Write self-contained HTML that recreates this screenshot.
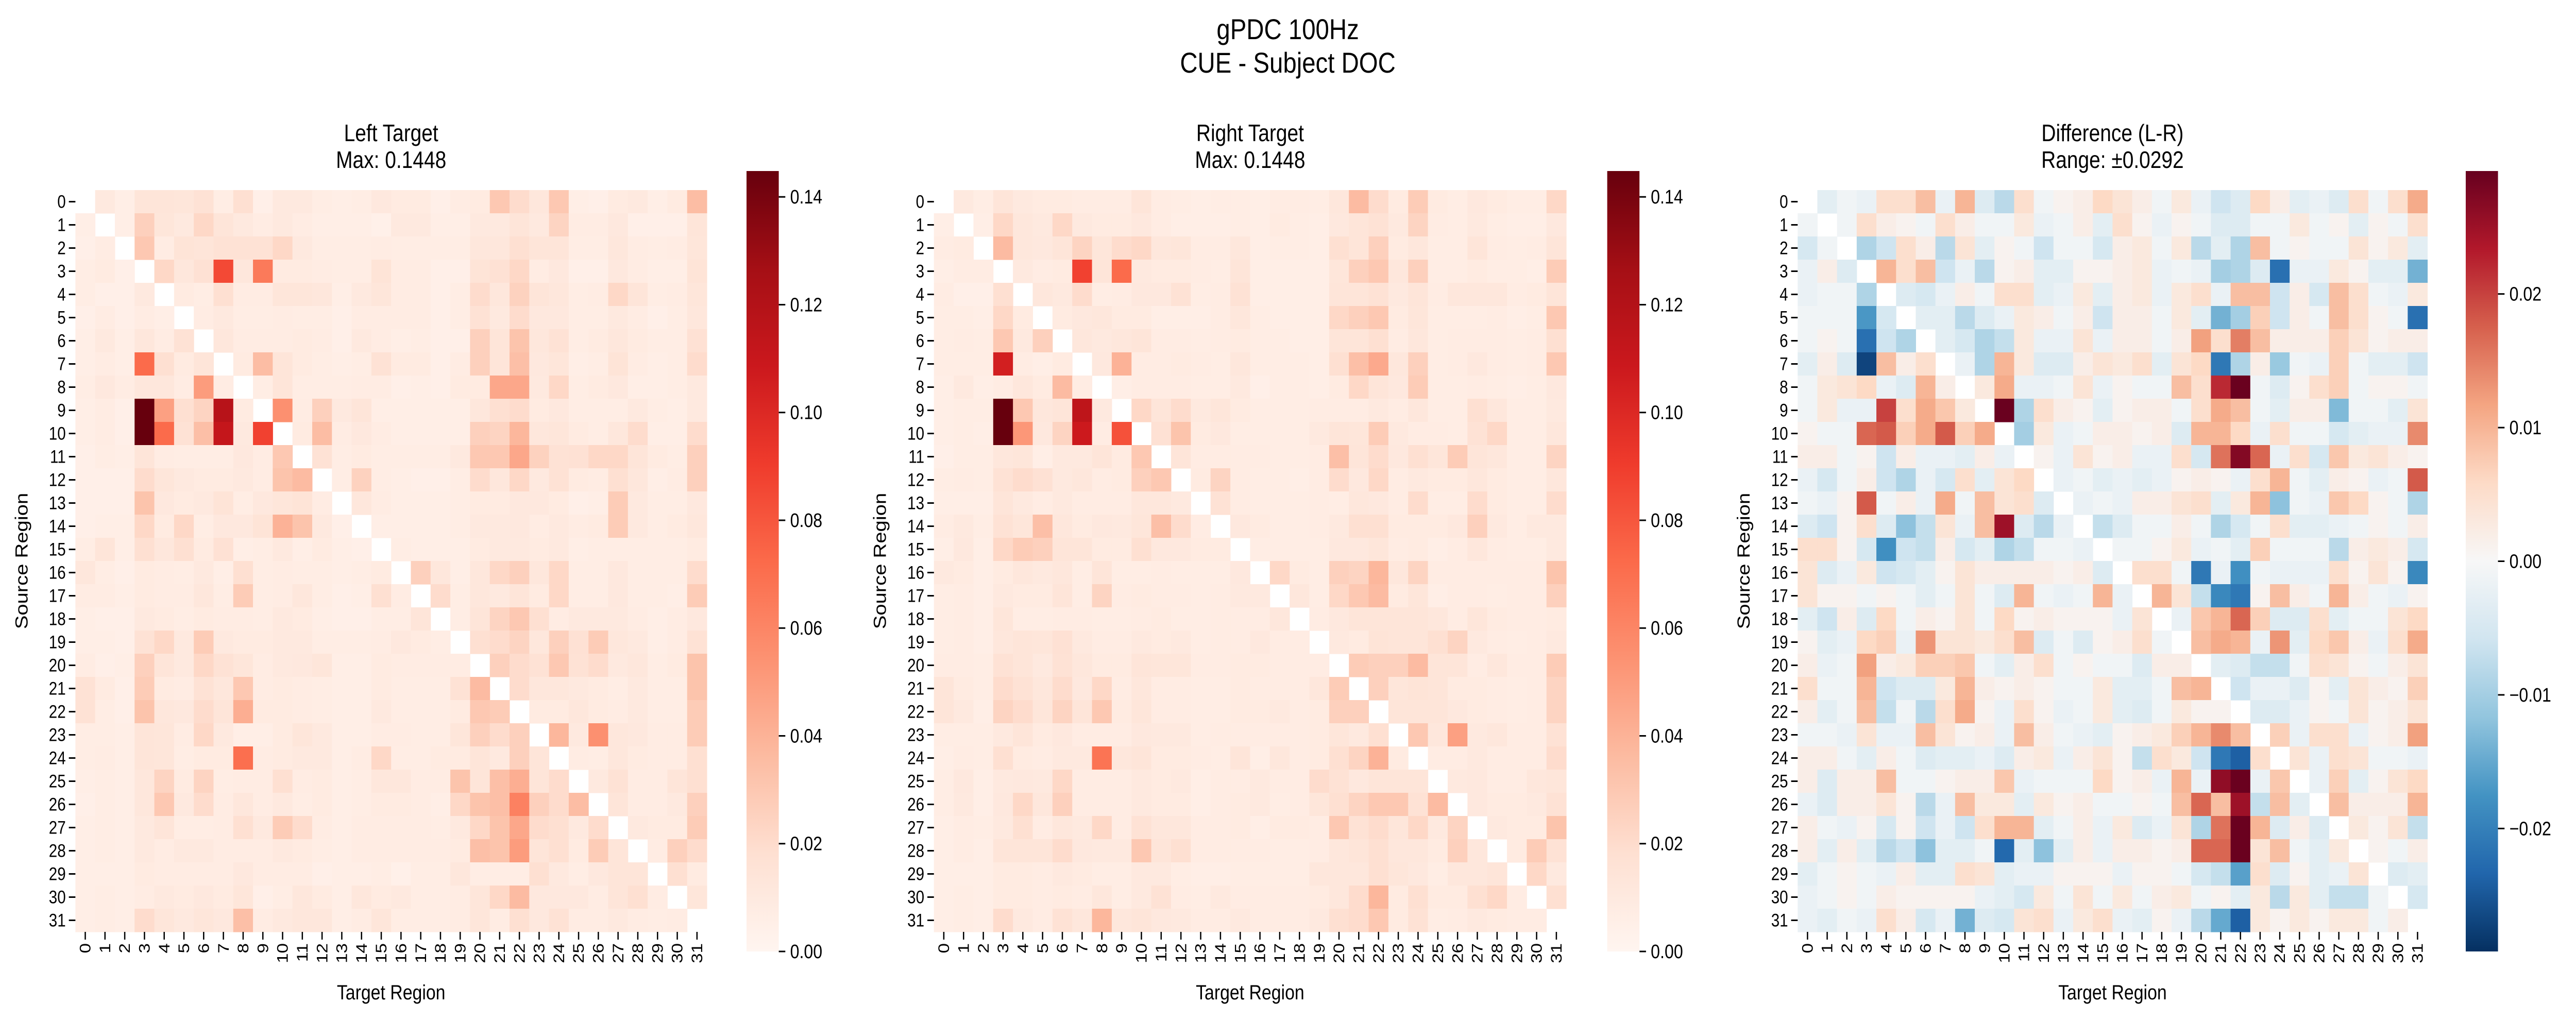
<!DOCTYPE html>
<html><head><meta charset="utf-8"><style>
html,body{margin:0;padding:0;background:#fff;overflow:hidden;width:100vw;height:100vh}
svg{display:block;width:100vw;height:100vh;font-family:"Liberation Sans","DejaVu Sans",sans-serif}
</style></head><body>
<svg id="fig" viewBox="0 0 5911 1982" preserveAspectRatio="none" xmlns="http://www.w3.org/2000/svg">
<rect width="5911" height="1982" fill="#fff"/>
<text x="2955" y="76" font-size="56" text-anchor="middle">gPDC 100Hz</text>
<text x="2955" y="141" font-size="56" text-anchor="middle">CUE - Subject DOC</text>
</svg>
<script>
// values in thousandths
const regions = Array.from({length:32},(_,i)=>String(i));
const leftRows = [
"0,10,6,14,14,13,16,7,18,5,10,10,7,6,7,11,9,9,5,8,9,30,20,12,30,6,5,9,10,6,9,35",
"6,0,6,26,13,10,22,14,10,8,10,8,6,6,6,4,10,10,6,6,10,10,14,10,24,8,8,11,5,5,5,14",
"5,8,0,30,8,15,14,16,16,16,22,10,7,7,7,8,7,7,7,7,12,12,18,14,14,7,7,12,8,7,8,13",
"7,9,5,0,22,12,17,85,12,65,9,9,8,7,7,15,8,8,5,5,15,17,22,8,11,5,5,11,8,6,6,15",
"7,5,5,10,0,9,7,18,8,8,13,13,12,6,10,13,8,8,5,7,20,12,25,14,12,7,8,22,14,7,8,13",
"5,8,5,8,6,0,8,10,7,7,8,7,7,5,8,8,8,8,5,7,16,10,20,11,11,7,7,10,8,5,7,12",
"6,10,6,12,8,16,0,12,8,8,8,9,8,5,10,8,6,7,5,5,26,14,32,12,16,7,9,12,9,7,7,17",
"6,8,6,72,18,9,14,0,9,35,14,9,7,6,7,16,9,9,5,8,26,14,34,11,13,6,7,15,8,6,7,20",
"7,11,8,12,12,8,50,8,0,7,14,7,7,7,8,8,5,6,5,9,9,45,45,10,22,7,9,11,6,6,7,10",
"6,8,5,145,48,18,24,118,9,0,55,8,26,10,14,6,6,6,6,6,12,18,20,9,11,7,7,7,10,7,6,10",
"6,8,5,145,72,16,34,112,10,88,0,9,35,8,11,8,6,6,6,6,26,24,38,12,13,9,7,12,20,6,6,20",
"5,7,6,14,8,7,7,7,11,8,30,0,16,7,9,7,7,7,7,10,30,30,45,25,16,17,22,22,14,9,7,26",
"5,5,5,20,13,10,9,9,10,8,32,36,0,7,25,7,6,5,5,7,20,12,22,10,16,9,8,18,12,6,8,26",
"5,5,5,32,11,9,10,15,7,11,13,15,8,0,12,8,6,6,6,7,9,9,11,11,9,5,6,28,10,7,7,11",
"5,6,6,22,9,22,7,11,11,15,40,32,10,5,0,6,6,6,6,7,10,10,11,8,10,8,9,28,10,7,9,12",
"7,14,6,18,12,18,9,17,6,7,10,6,9,6,5,0,7,6,6,6,9,10,10,9,10,6,7,7,7,7,7,9",
"12,7,5,9,8,7,10,6,18,7,8,7,7,6,7,9,0,26,12,6,12,22,26,12,22,7,7,11,7,7,7,20",
"8,8,6,9,8,8,12,7,28,7,8,12,7,5,6,18,8,0,20,7,12,10,14,9,22,7,7,11,7,7,6,28",
"6,5,5,10,9,7,9,8,8,7,10,9,6,5,5,7,7,14,0,7,14,24,30,18,8,10,10,10,8,6,8,11",
"6,6,5,16,22,10,28,10,9,9,10,10,7,7,7,8,11,9,7,0,18,20,24,12,26,17,28,12,10,6,8,16",
"8,5,6,26,14,10,22,16,13,8,10,11,13,6,6,9,8,8,8,8,0,26,20,16,30,16,20,10,12,7,9,32",
"16,9,5,28,9,8,16,12,30,8,9,8,7,6,6,9,7,7,7,16,36,0,20,12,12,10,9,7,10,7,7,32",
"16,7,5,32,12,11,20,14,42,9,9,8,7,6,6,10,7,7,7,9,30,28,0,9,9,12,9,8,10,7,7,28",
"7,7,6,14,13,8,22,10,6,6,9,13,10,6,6,8,8,7,7,13,26,20,26,0,38,10,55,12,11,8,8,28",
"7,8,6,14,13,7,9,9,70,8,9,10,10,6,8,22,7,7,9,9,14,10,26,14,0,8,7,12,9,8,8,18",
"6,7,6,12,24,9,24,7,8,8,18,8,9,6,7,12,12,8,8,32,14,34,42,14,20,0,10,16,8,8,14,18",
"5,7,6,12,30,10,20,8,12,8,10,7,9,6,7,9,9,8,6,22,32,34,62,26,20,35,0,14,8,8,10,26",
"6,7,6,10,14,7,7,8,18,10,28,20,8,6,8,8,8,8,7,10,22,32,45,20,18,10,20,0,10,9,9,28",
"6,7,6,10,8,10,10,8,8,8,10,9,7,6,8,8,8,8,8,9,34,32,50,14,18,9,28,14,0,8,26,20",
"6,6,6,9,8,8,8,8,11,8,8,8,5,6,6,7,4,7,7,12,7,7,7,18,10,7,11,14,14,0,18,9",
"6,7,6,8,10,9,11,9,13,5,7,12,9,6,12,9,10,7,7,8,13,22,36,11,11,11,8,14,18,8,0,13",
"6,7,6,20,13,10,13,11,34,8,10,12,12,6,8,13,7,7,7,8,13,8,18,11,16,8,8,10,8,7,8,0"];
const rightRows = [
"0,10,7,14,10,9,9,8,8,8,14,8,7,6,7,7,6,8,8,7,12,36,20,9,28,9,7,11,9,7,7,22",
"6,0,6,22,12,10,22,10,9,9,11,8,6,6,6,7,6,9,7,6,11,14,16,10,24,8,7,10,7,6,6,11",
"8,9,0,36,12,11,14,24,13,20,22,12,13,8,8,12,6,7,7,6,18,14,26,9,12,7,7,14,8,7,8,14",
"6,8,8,0,10,8,9,88,14,72,10,9,9,8,7,14,6,6,6,6,13,26,30,12,26,7,7,9,7,7,6,28",
"8,5,5,18,0,12,10,20,7,8,11,11,16,7,8,16,6,6,6,6,14,14,16,10,14,8,12,12,12,8,9,14",
"7,7,6,22,9,0,9,11,12,9,9,6,6,6,8,12,7,6,6,6,22,26,30,9,13,7,7,7,8,6,7,30",
"7,8,7,30,10,26,0,12,10,12,14,8,8,7,8,9,7,7,6,6,14,14,18,8,12,7,8,8,8,7,8,18",
"7,7,7,105,8,6,9,0,11,40,8,8,9,8,7,12,7,7,7,6,18,34,44,12,26,7,8,11,8,7,8,30",
"6,10,6,8,12,9,36,8,0,6,8,8,8,7,7,10,5,7,7,6,9,22,14,11,28,7,7,8,7,6,7,11",
"6,7,7,145,30,12,14,115,10,0,22,14,20,10,13,9,7,7,7,8,8,8,10,8,12,7,7,18,12,7,7,10",
"6,7,6,145,52,11,24,108,8,82,0,17,32,9,11,7,7,7,7,10,14,13,28,10,8,8,7,16,22,7,7,12",
"5,7,7,12,13,6,10,10,14,9,30,0,14,8,8,8,8,7,7,8,34,14,20,11,18,13,28,14,12,7,7,24",
"7,8,7,16,20,17,10,12,8,9,26,30,0,9,24,8,7,7,6,8,20,11,22,8,10,9,9,12,9,7,7,12",
"6,6,6,14,10,8,10,8,8,8,12,12,10,0,16,8,7,7,7,8,7,12,11,8,20,7,7,20,9,7,7,20",
"8,10,7,16,13,34,12,9,11,10,13,34,20,8,0,11,9,7,7,8,10,18,18,9,9,9,11,26,10,7,10,10",
"6,11,6,22,28,26,14,14,9,9,18,11,11,9,9,0,7,7,7,7,11,11,13,8,9,6,8,12,8,7,7,10",
"10,9,6,9,12,10,12,7,14,7,7,8,7,7,7,11,0,22,9,7,26,24,38,12,24,8,8,8,8,8,8,32",
"7,8,6,10,9,9,14,7,24,8,9,8,8,7,8,10,10,0,12,7,22,30,36,9,13,6,8,8,7,8,8,26",
"7,8,6,13,7,7,8,8,7,7,8,9,7,7,8,8,8,12,0,8,11,14,14,14,14,12,8,13,9,8,8,9",
"7,8,6,12,14,13,17,10,8,8,10,9,10,7,8,8,11,8,8,0,10,9,15,14,14,18,24,10,8,7,8,10",
"8,8,7,16,14,10,16,12,9,9,14,13,13,8,8,9,9,8,8,8,0,28,26,26,36,14,14,8,12,8,8,28",
"14,9,7,20,16,12,20,11,22,8,12,8,8,7,7,9,8,8,8,12,28,0,26,13,15,14,9,9,8,7,8,24",
"14,10,6,24,20,13,24,14,30,9,13,8,8,7,7,9,9,10,8,9,26,26,0,14,14,14,11,9,8,7,8,24",
"7,7,7,10,14,9,11,8,8,8,11,10,10,7,8,8,8,8,8,9,13,10,18,0,30,12,48,10,12,8,8,16",
"6,8,7,18,9,8,10,10,68,12,14,9,9,8,7,14,6,12,8,9,18,24,40,9,0,8,8,10,8,8,8,20",
"7,11,6,10,11,10,22,8,8,8,10,9,10,6,8,8,10,8,8,20,16,11,14,14,14,0,10,11,8,8,12,13",
"7,10,6,11,22,12,26,8,8,8,10,9,9,6,8,9,10,7,8,13,18,24,30,30,16,36,0,11,9,9,10,16",
"6,8,7,10,18,8,12,10,22,8,16,12,12,8,8,9,6,9,9,8,30,16,20,13,22,10,24,0,10,9,9,32",
"6,8,6,14,14,14,20,11,10,10,30,14,18,8,8,8,8,7,7,8,12,14,18,12,12,9,26,12,0,9,28,16",
"6,6,6,9,9,8,10,9,7,7,10,10,7,6,6,7,7,7,7,12,12,12,18,13,11,7,12,12,14,0,22,10",
"6,7,6,9,9,8,9,8,12,7,10,16,8,7,10,8,8,8,8,9,12,20,38,9,18,9,9,18,22,8,0,18",
"6,7,6,20,10,8,16,12,38,12,14,11,10,8,8,10,8,8,8,10,18,20,30,9,16,7,8,10,9,8,8,0"];
const diffRows = [
"0,-3,-1,-2,5,5,9,-2,10,-4,-8,5,-1,1,2,6,4,2,-1,3,-2,-6,-4,6,2,-3,-2,-4,5,-1,5,11",
"-1,0,-1,5,2,1,-1,5,2,-1,-1,3,-2,-1,2,-3,5,1,-2,1,-1,-4,-4,-1,-1,3,-1,1,-3,1,-1,5",
"-5,-1,0,-9,-6,5,2,-8,4,-3,1,-1,-6,-1,-1,-5,2,3,-1,3,-8,-3,-9,9,-1,1,-1,-1,4,1,3,-3",
"-2,2,-4,0,10,5,9,-6,-2,-8,1,2,-3,-3,1,1,2,3,-2,-1,-2,-10,-9,-4,-22,-2,-2,3,1,-3,-3,-14",
"-2,-1,-1,-9,0,-4,-5,-2,2,-1,5,5,-3,-2,3,-3,2,3,-2,3,5,-2,9,9,-6,2,-5,9,5,-1,-2,3",
"-1,-1,-1,-17,-5,0,-3,-3,-8,-4,-2,3,2,-1,2,-6,2,2,-1,3,-3,-14,-10,7,-6,2,-1,9,5,1,-1,-22",
"-1,1,-1,-22,-6,-9,0,-3,-5,-9,-7,3,-2,-2,4,-2,2,2,-1,2,12,5,15,9,2,2,2,7,4,1,2,2",
"-3,2,-4,-27,9,2,5,0,-2,-9,10,3,-4,-4,2,4,3,5,-3,4,6,-21,-9,2,-11,-1,-2,7,-1,-3,-3,-6",
"-1,3,4,6,-2,-4,10,2,0,3,11,-2,-2,-1,4,-2,1,-1,-1,9,5,22,29,-1,-4,1,5,7,-1,1,1,-1",
"-1,3,-2,-2,20,5,11,8,3,0,29,-9,5,2,1,-3,1,2,2,-1,5,11,9,-1,-3,2,2,-13,-1,-1,-3,4",
"1,-1,-1,17,18,7,11,18,7,11,0,-10,3,-2,-1,2,2,1,2,-4,10,10,6,-2,5,-1,-1,-5,-3,-2,-2,14",
"2,2,-1,1,-6,2,-2,-2,-3,2,-2,0,1,-2,4,1,2,-2,-2,5,-5,16,27,17,-2,5,-5,8,3,4,2,1",
"-2,-5,-1,2,-6,-9,-2,-5,5,-3,4,6,0,-2,-1,-3,-2,-3,-2,1,2,1,-2,5,10,-1,-3,2,1,-2,-1,18",
"-1,-2,1,18,-1,2,-2,11,-1,9,4,5,-4,0,-2,-1,-2,2,2,4,5,-3,3,10,-12,-1,-2,8,6,1,-1,-9",
"-4,-6,1,5,-4,-12,-7,4,-2,9,25,-4,-8,-2,0,-7,-4,-1,-1,2,-1,-9,-5,-1,5,-3,-3,-2,-1,1,-1,2",
"5,5,1,-5,-18,-6,-7,2,-5,-3,-9,-7,-1,-1,-2,0,-1,-1,1,3,-2,-1,-3,7,-1,-1,-1,-8,2,3,2,-5",
"4,-4,-2,3,-6,-5,-3,1,4,2,2,2,2,1,2,-4,0,5,5,-1,-21,-2,-18,-1,-2,-2,-2,5,1,4,1,-19",
"4,1,1,-1,1,-1,-3,-1,4,-1,-4,10,-1,-2,-1,10,-2,0,10,4,-7,-19,-21,1,9,2,-1,10,2,-1,-2,1",
"-3,-6,2,-4,6,-1,2,1,4,-1,6,1,2,1,1,1,-2,4,0,-2,8,10,17,7,-4,-4,5,-3,-1,-1,4,6",
"1,-3,-2,6,7,-2,13,4,4,3,5,9,-4,-1,-4,1,2,5,-1,0,9,11,10,-2,13,-3,6,8,2,-2,5,11",
"2,-2,-1,12,2,3,7,7,8,-1,-3,2,5,-1,1,-1,-1,-4,2,2,0,-3,-4,-7,-7,-1,5,4,1,-1,2,4",
"5,-1,-1,10,-6,-4,-4,3,10,2,1,2,1,-1,-1,3,-3,-3,-1,9,10,0,-6,-2,-2,-4,1,-3,4,2,1,7",
"2,-3,-1,9,-7,-1,-8,5,11,1,-2,5,1,-2,-1,3,-3,-4,-1,3,1,1,0,-4,-4,-2,1,-1,4,1,2,4",
"-1,-1,-2,4,-2,-2,9,4,1,2,-2,9,2,-1,-2,-3,1,2,3,7,10,14,9,0,7,-2,5,5,-2,1,2,12",
"2,2,-1,-3,2,-1,-4,-3,-3,-2,-4,2,3,-2,2,4,1,-7,5,3,-6,-21,-24,5,0,4,-2,5,4,-1,-1,-2",
"2,-4,2,2,9,-1,-1,1,2,2,8,-2,-1,-1,-1,6,1,2,-2,10,-2,26,29,-2,8,0,-2,7,-3,1,4,6",
"-2,-4,2,2,4,1,-8,-2,9,3,3,-3,3,1,2,-1,-1,1,-1,9,17,9,25,-7,9,-3,0,9,2,2,2,10",
"2,-1,-2,1,-5,1,-6,-2,-6,5,10,10,-3,-1,2,-2,3,-4,-2,4,-9,16,29,10,-4,2,-4,0,3,1,4,-7",
"2,-3,2,-3,-8,-6,-12,-3,-3,-1,-23,-3,-12,-3,2,-2,2,2,1,2,17,17,29,4,9,-1,-3,3,0,1,-1,2",
"-3,-1,1,-1,-2,2,-3,-3,5,4,-3,-2,-2,1,1,1,-2,1,1,-1,-5,-7,-16,5,-4,1,-3,-2,4,0,-4,-3",
"-2,-1,1,-1,2,1,1,1,1,-2,-3,-5,3,-1,4,-1,3,-1,2,3,-1,1,-3,3,-8,3,-3,-7,-7,-1,0,-5",
"-2,-3,-1,-2,5,2,-5,-2,-14,-4,-5,4,5,-2,3,5,-2,-3,1,-2,-8,-15,-24,3,1,3,1,3,3,-1,2,0"];
const redTicks = ["0.00","0.02","0.04","0.06","0.08","0.10","0.12","0.14"];
const redTickVals = [0,0.02,0.04,0.06,0.08,0.10,0.12,0.14];
const diffTicks = ["\u22120.02","\u22120.01","0.00","0.01","0.02"];
const diffTickVals = [-0.02,-0.01,0,0.01,0.02];
const redMax = 0.1448, diffMax = 0.0292;

const REDS=["#fff5f0","#fee0d2","#fcbba1","#fc9272","#fb6a4a","#ef3b2c","#cb181d","#a50f15","#67000d"];
const RDBU=["#053061","#2166ac","#4393c3","#92c5de","#d1e5f0","#f7f7f7","#fddbc7","#f4a582","#d6604d","#b2182b","#67001f"];
function hex(h){return [1,3,5].map(i=>parseInt(h.substr(i,2),16));}
function cmap(stops,t){t=Math.max(0,Math.min(1,t));const n=stops.length-1;const f=t*n;const i=Math.min(n-1,Math.floor(f));const u=f-i;const a=hex(stops[i]),b=hex(stops[i+1]);return "rgb("+a.map((v,k)=>Math.round(v+(b[k]-v)*u)).join(",")+")";}
const NS="http://www.w3.org/2000/svg";
const svg=document.getElementById('fig');
function el(tag,attrs,parent){const e=document.createElementNS(NS,tag);for(const k in attrs)e.setAttribute(k,attrs[k]);(parent||svg).appendChild(e);return e;}
const Y0=369,Y1=1809;
function panel(id,x0,x1,rows,stops,vmin,vmax,title1,title2,cbx,ticks,tickVals){
  const g=el('g',{});
  
  
  const cw=(x1-x0)/32,ch=(Y1-Y0)/32;
  const xs=i=>x0+i*cw, ys=j=>Y0+j*ch;
  rows.forEach((r,j)=>{r.split(',').map(Number).forEach((v,i)=>{
    if(i===j)return;
    const c=el('rect',{x:xs(i),y:ys(j),width:cw+0.6,height:ch+0.6,fill:cmap(stops,(v/1000-vmin)/(vmax-vmin))},g);
    
    
  });});
  regions.forEach((lab,j)=>{
    const yc=ys(j)+ch/2;
    el('line',{x1:x0-15,x2:x0,y1:yc,y2:yc,stroke:'#000','stroke-width':3},g);
    const t=el('text',{x:x0-22,y:yc+12,'font-size':35,'text-anchor':'end'},g);t.textContent=lab;
    
    
    const xc=xs(j)+cw/2;
    el('line',{x1:xc,x2:xc,y1:Y1,y2:Y1+15,stroke:'#000','stroke-width':3},g);
    const t2=el('text',{x:0,y:0,'font-size':35,'text-anchor':'end',transform:'translate('+(xc+12)+','+(Y1+22)+') rotate(-90)'},g);t2.textContent=lab;
    
    
  });
  const cx=(x0+x1)/2;
  let t=el('text',{x:cx,y:274,'font-size':46,'text-anchor':'middle'},g);t.textContent=title1;
  
  
  t=el('text',{x:cx,y:326,'font-size':46,'text-anchor':'middle'},g);t.textContent=title2;
  
  
  t=el('text',{x:cx,y:1940,'font-size':40,'text-anchor':'middle'},g);t.textContent='Target Region';
  
  
  t=el('text',{x:0,y:0,'font-size':40,'text-anchor':'middle',transform:'translate('+(x0-110)+','+((Y0+Y1)/2)+') rotate(-90)'},g);t.textContent='Source Region';
  
  
  const CB0=332,CB1=1847,cw2=74;
  const gid='grad-'+id;
  const lg=el('linearGradient',{id:gid,x1:0,y1:1,x2:0,y2:0},g);
  stops.forEach((s,k)=>el('stop',{offset:k/(stops.length-1),'stop-color':s},lg));
  const cb=el('rect',{x:cbx,y:CB0,width:cw2,height:CB1-CB0,fill:'url(#'+gid+')'},g);
  
  
  const cy=v=>CB1-(v-vmin)/(vmax-vmin)*(CB1-CB0);
  ticks.forEach((lab,k)=>{
    const y=cy(tickVals[k]);
    el('line',{x1:cbx+cw2,x2:cbx+cw2+15,y1:y,y2:y,stroke:'#000','stroke-width':3},g);
    const tt=el('text',{x:cbx+cw2+26,y:y+13,'font-size':38},g);tt.textContent=lab;
    
    
  });
}
panel('left-target',173,1622,leftRows,REDS,0,redMax,'Left Target','Max: 0.1448',1713,redTicks,redTickVals);
panel('right-target',2143,3594,rightRows,REDS,0,redMax,'Right Target','Max: 0.1448',3688,redTicks,redTickVals);
panel('difference',4125,5570,diffRows,RDBU,-diffMax,diffMax,'Difference (L-R)','Range: \u00b10.0292',5658,diffTicks,diffTickVals);
</script>
</body></html>
